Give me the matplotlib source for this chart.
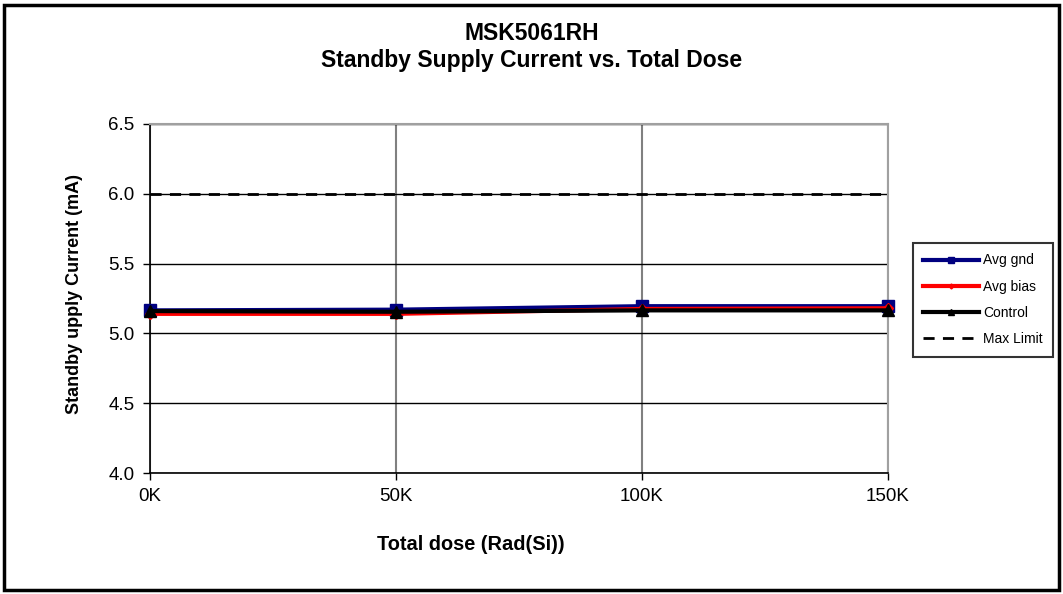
import matplotlib
matplotlib.use("Agg")
import matplotlib.pyplot as plt
from matplotlib.patches import Rectangle

categories = ["0K", "50K", "100K", "150K"]
avg_gnd = [5.165, 5.17, 5.195, 5.195]
avg_bias = [5.14, 5.14, 5.175, 5.18]
control = [5.16, 5.155, 5.165, 5.165]
max_limit = [6.0, 6.0, 6.0, 6.0]
yticks = [4.0, 4.5, 5.0, 5.5, 6.0, 6.5]

plt.rcParams['font.family'] = ['Liberation Sans', 'DejaVu Sans']

fig = plt.figure(figsize=(10.63, 5.94), dpi=100)
W, H = 1063, 594
ax = fig.add_axes([150 / W, 1 - 473 / H, (888 - 150) / W, (473 - 124) / H])

x = list(range(len(categories)))
ax.plot(x, avg_gnd, color="#000080", lw=3, marker="s", ms=9, label="Avg gnd", zorder=3, clip_on=False)
ax.plot(x, avg_bias, color="#ff0000", lw=3, marker="D", ms=5, label="Avg bias", zorder=4, clip_on=False)
ax.plot(x, control, color="#000000", lw=3, marker="^", ms=9, label="Control", zorder=5, clip_on=False)
ax.plot(x, max_limit, color="#000000", lw=2, ls=(0, (4, 3)), label="Max Limit", zorder=2)

ax.set_xlim(0, 3)
ax.set_ylim(4.0, 6.5)
ax.set_xticks(x)
ax.set_xticklabels(categories, fontsize=13.5)
ax.set_yticks(yticks)
ax.set_yticklabels([f"{v:.1f}" for v in yticks], fontsize=13.5)
ax.grid(True, color="#000000", lw=1)
ax.xaxis.grid(True, color="#808080", lw=1.5)
ax.set_axisbelow(True)
for s in ["top", "right"]:
    ax.spines[s].set_color("#a0a0a0")
    ax.spines[s].set_linewidth(1.5)
for s in ["left", "bottom"]:
    ax.spines[s].set_color("#000000")
    ax.spines[s].set_linewidth(1.2)
ax.tick_params(direction="out", length=5, width=1, pad=6)

ax.set_xlabel("Total dose (Rad(Si))", fontsize=14.4, fontweight="bold")
ax.xaxis.label.set_va("center")
ax.xaxis.set_label_coords((471 - 150) / 738, (473 - 545) / 349)
ax.set_ylabel("Standby upply Current (mA)", fontsize=13, fontweight="bold")
ax.yaxis.label.set_va("center")
ax.yaxis.set_label_coords((75 - 150) / 738, (473 - 294) / 349)
fig.text(W / 2 / W, 1 - 34 / H, "MSK5061RH",
         ha="center", va="center", fontsize=16.5, fontweight="bold")
fig.text(W / 2 / W, 1 - 61 / H, "Standby Supply Current vs. Total Dose",
         ha="center", va="center", fontsize=16.5, fontweight="bold")

leg = fig.legend(loc="upper left", bbox_to_anchor=(913 / W, 1 - 243 / H), borderaxespad=0,
                 fontsize=10, markerscale=0.5,
                 frameon=True, fancybox=False, edgecolor="#000000", handlelength=4.0,
                 borderpad=0.75, labelspacing=0.88, handletextpad=0.3)
leg.get_frame().set_linewidth(1.5)

fig.add_artist(Rectangle((4 / W, 4 / H), (W - 8) / W, (H - 9) / H, transform=fig.transFigure,
                         fill=False, edgecolor="black", lw=2.5))

fig.savefig("out.png", dpi=100)
